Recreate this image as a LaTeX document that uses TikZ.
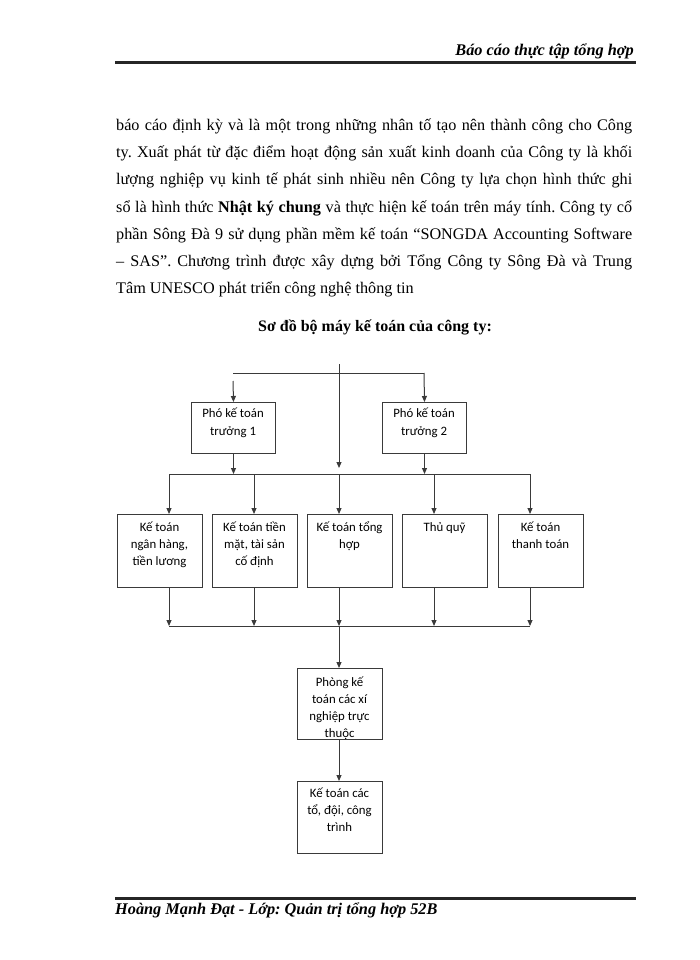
\documentclass[tikz,border=0pt]{standalone}
\usepackage{fontspec}
\setmainfont{Liberation Serif}
\newfontfamily\boxfont{Carlito}
\usetikzlibrary{arrows.meta}
\definecolor{ln}{HTML}{3A3A3A}
\frenchspacing
\begin{document}
\begin{tikzpicture}[x=1pt,y=-1pt,
  box/.style={draw=ln, line width=1pt, minimum width=85pt, minimum height=73pt, inner sep=0pt, anchor=north west},
  pbox/.style={box, minimum width=84pt, minimum height=51pt},
  btxt/.style={anchor=north, inner sep=0pt, align=center, font=\boxfont\fontsize{12.8}{17}\selectfont},
  ptxt/.style={btxt, font=\boxfont\fontsize{12.8}{18.5}\selectfont},
  con/.style={draw=ln, line width=1pt},
  arr/.style={con, -{Triangle[length=6pt,width=5pt]}},
  rulel/.style={draw=black!85, line width=2.6pt},
  para/.style={anchor=base west, inner sep=0pt, font=\fontsize{16.2}{27}\selectfont},
  hdr/.style={inner sep=0pt, font=\bfseries\itshape\fontsize{16.3}{19}\selectfont},
  ttl/.style={anchor=base, inner sep=0pt, font=\bfseries\fontsize{16}{19}\selectfont}]
\useasboundingbox[fill=white] (0,0) rectangle (700,960);

% header and footer
\node[hdr, anchor=base east] (hd) at (634,56) {Báo cáo thực tập tổng hợp};
\coordinate (hr1) at (115,62.5); \coordinate (hr2) at (636,62.5);
\draw[rulel] (hr1) -- (hr2);
\coordinate (fr1) at (115,898.5); \coordinate (fr2) at (636,898.5);
\draw[rulel] (fr1) -- (fr2);
\node[hdr, anchor=base west] (ft) at (115,914) {Hoàng Mạnh Đạt - Lớp: Quản trị tổng hợp 52B};

% paragraph
\node[para] (l1) at (116,131) {\makebox[516pt][s]{báo cáo định kỳ và là một trong những nhân tố tạo nên thành công cho Công}};
\node[para] (l2) at (116,158) {\makebox[516pt][s]{ty. Xuất phát từ đặc điểm hoạt động sản xuất kinh doanh của Công ty là khối}};
\node[para] (l3) at (116,185) {\makebox[516pt][s]{lượng nghiệp vụ kinh tế phát sinh nhiều nên Công ty lựa chọn hình thức ghi}};
\node[para] (l4) at (116,212) {\makebox[516pt][s]{sổ là hình thức \textbf{Nhật ký chung} và thực hiện kế toán trên máy tính. Công ty cổ}};
\node[para] (l5) at (116,239) {\makebox[516pt][s]{phần Sông Đà 9 sử dụng phần mềm kế toán “SONGDA Accounting Software}};
\node[para] (l6) at (116,266) {\makebox[516pt][s]{– SAS”. Chương trình được xây dựng bởi Tổng Công ty Sông Đà và Trung}};
\node[para] (l7) at (116,293) {Tâm UNESCO phát triển công nghệ thông tin};

\node[ttl] (tt) at (375,331) {Sơ đồ bộ máy kế toán của công ty:};

% boxes
\node[pbox] (p1) at (191,402) {};
\node[pbox] (p2) at (382,402) {};
\node[ptxt] (p1t) at (233,403) {\rule{0pt}{14pt}Phó kế toán\\trưởng 1};
\node[ptxt] (p2t) at (424,403) {\rule{0pt}{14pt}Phó kế toán\\trưởng 2};

\node[box] (k1) at (117,514) {};
\node[box] (k2) at (212,514) {};
\node[box] (k3) at (307,514) {};
\node[box] (k4) at (402,514) {};
\node[box] (k5) at (498,514) {};
\node[btxt] (k1t) at (159.5,517) {\rule{0pt}{14pt}Kế toán\\ngân hàng,\\tiền lương};
\node[btxt] (k2t) at (254.5,517) {\rule{0pt}{14pt}Kế toán tiền\\mặt, tài sản\\cố định};
\node[btxt] (k3t) at (349.5,517) {\rule{0pt}{14pt}Kế toán tổng\\hợp};
\node[btxt] (k4t) at (444.5,517) {\rule{0pt}{14pt}Thủ quỹ};
\node[btxt] (k5t) at (540.5,517) {\rule{0pt}{14pt}Kế toán\\thanh toán};

\begin{scope}
\clip (297,668) rectangle (382,739.5);
\node[btxt] (b6t) at (339.5,672) {\rule{0pt}{14pt}Phòng kế\\toán các xí\\nghiệp trực\\thuộc};
\end{scope}
\node[box, minimum height=71pt] (b6) at (297,668) {};
\node[box, minimum height=72pt] (b7) at (297,781) {};
\node[btxt] (b7t) at (339.5,783) {\rule{0pt}{14pt}Kế toán các\\tổ, đội, công\\trình};

% connectors top
\coordinate (top) at (339,364);
\coordinate (mid) at (339,468);
\coordinate (hl) at (233,373);
\coordinate (hrt) at (424,373);
\coordinate (hlg) at (233,381);
\draw[con] (hl) -- (hrt);
\draw[arr] (top) -- (mid);
\draw[arr] (hlg) -- (p1.north);
\draw[arr] (hrt) -- (p2.north);

% bus 1
\coordinate (a1) at (169,474);
\coordinate (a2) at (254,474);
\coordinate (a3) at (339,474);
\coordinate (a4) at (434,474);
\coordinate (a5) at (530,474);
\draw[con] (a1) -- (a5);
\draw[arr] (p1.south) -- (p1.south |- a1);
\draw[arr] (p2.south) -- (p2.south |- a1);
\draw[arr] (a1) -- (a1 |- k1.north);
\draw[arr] (a2) -- (a2 |- k2.north);
\draw[arr] (a3) -- (a3 |- k3.north);
\draw[arr] (a4) -- (a4 |- k4.north);
\draw[arr] (a5) -- (a5 |- k5.north);

% bus 2
\coordinate (c1) at (169,626);
\coordinate (c2) at (254,626);
\coordinate (c3) at (339,626);
\coordinate (c4) at (434,626);
\coordinate (c5) at (530,626);
\draw[con] (c1) -- (c5);
\draw[arr] (c1 |- k1.south) -- (c1);
\draw[arr] (c2 |- k2.south) -- (c2);
\draw[arr] (c3 |- k3.south) -- (c3);
\draw[arr] (c4 |- k4.south) -- (c4);
\draw[arr] (c5 |- k5.south) -- (c5);
\draw[arr] (c3) -- (c3 |- b6.north);
\draw[arr] (c3 |- b6.south) -- (c3 |- b7.north);
\end{tikzpicture}
\end{document}
